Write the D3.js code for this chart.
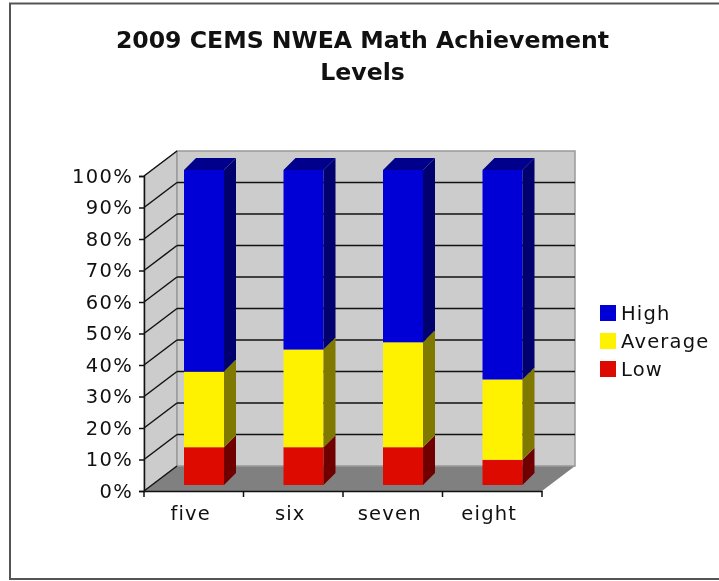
<!DOCTYPE html>
<html>
<head>
<meta charset="utf-8">
<script src="https://cdn.jsdelivr.net/npm/d3@7"></script>
<style>
  body { margin: 0; background: #fff; overflow: hidden; }
  svg { filter: blur(0.4px); }
  text { font-family: "DejaVu Sans", sans-serif; fill: #111; }
</style>
</head>
<body>
<div id="chart"></div>
<script>
const categories = ["five", "six", "seven", "eight"];
const seriesNames = ["Low", "Average", "High"];
const low = [12, 12, 12, 8];
const average = [24, 31, 33.3, 25.5];
const high = [64, 57, 54.7, 66.5];
const yTicks = [0, 10, 20, 30, 40, 50, 60, 70, 80, 90, 100];
const titleLines = ["2009 CEMS NWEA Math Achievement", "Levels"];
const legendOrder = ["High", "Average", "Low"];

const frontColors = { Low: "#dd0a00", Average: "#fff200", High: "#0000d6" };
const sideColors = { Low: "#700000", Average: "#807900", High: "#00006e" };
const topColor = "#00008c";

const width = 719, height = 581;
const svg = d3.select("#chart").append("svg")
  .attr("width", width).attr("height", height)
  .style("display", "block");

// frame, open on the right where the screenshot cuts it off
svg.append("path")
  .attr("d", d3.line()([[719, 3.5], [10, 3.5], [10, 579], [719, 579]]))
  .attr("fill", "none").attr("stroke", "#555").attr("stroke-width", 2);

titleLines.forEach((t, i) => {
  svg.append("text")
    .attr("x", 362.5).attr("y", 48 + i * 32)
    .attr("text-anchor", "middle")
    .style("font-size", "23.6px").style("font-weight", "bold")
    .text(t);
});

const y = d3.scaleLinear().domain([0, 100]).range([491, 176]);
const x = d3.scaleBand().domain(categories).range([144, 542]);

const depthX = 33, depthY = -25;   // wall offset
const barDepth = 12;               // side face of the bars
const barInset = 40, barW = 40, barLift = 6;

const left = x.range()[0], right = x.range()[1];
const poly = (pts) => pts.map((p) => p.join(",")).join(" ");

// floor + walls
svg.append("polygon")
  .attr("points", poly([[left, y(0)], [left + depthX, y(0) + depthY], [right + depthX, y(0) + depthY], [right, y(0)]]))
  .attr("fill", "#808080");
svg.append("polygon")
  .attr("points", poly([[left, y(0)], [left, y(100)], [left + depthX, y(100) + depthY], [left + depthX, y(0) + depthY]]))
  .attr("fill", "#cccccc").attr("stroke", "#999").attr("stroke-width", 1);
svg.append("rect")
  .attr("x", left + depthX).attr("y", y(100) + depthY)
  .attr("width", right - left).attr("height", y(0) - y(100))
  .attr("fill", "#cccccc").attr("stroke", "#999").attr("stroke-width", 1.5);

// grid lines
const grid = svg.append("g").attr("stroke", "#111").attr("stroke-width", 1.5);
grid.selectAll("line.back")
  .data(yTicks.filter((d) => d > 0 && d < 100))
  .enter().append("line").attr("class", "back")
  .attr("x1", left + depthX).attr("x2", right + depthX)
  .attr("y1", (d) => y(d) + depthY).attr("y2", (d) => y(d) + depthY);
grid.selectAll("line.side")
  .data(yTicks)
  .enter().append("line").attr("class", "side")
  .attr("x1", left).attr("x2", left + depthX)
  .attr("y1", (d) => y(d)).attr("y2", (d) => y(d) + depthY);

// stacked bars
const rows = categories.map((c, i) => ({ cat: c, Low: low[i], Average: average[i], High: high[i] }));
const stacked = d3.stack().keys(seriesNames)(rows);

stacked.forEach((layer) => {
  const name = layer.key;
  const g = svg.append("g");
  layer.forEach((d) => {
    const x0 = x(d.data.cat) + barInset;
    const x1 = x0 + barW;
    const yb = y(d[0]) - barLift, yt = y(d[1]) - barLift;
    g.append("rect")
      .attr("x", x0).attr("y", yt).attr("width", barW).attr("height", yb - yt)
      .attr("fill", frontColors[name]);
    g.append("polygon")
      .attr("points", poly([[x1, yb], [x1 + barDepth, yb - barDepth], [x1 + barDepth, yt - barDepth], [x1, yt]]))
      .attr("fill", sideColors[name]);
    if (name === "High") {
      g.append("polygon")
        .attr("points", poly([[x0, yt], [x0 + barDepth, yt - barDepth], [x1 + barDepth, yt - barDepth], [x1, yt]]))
        .attr("fill", topColor);
    }
  });
});

// axes
const yAxis = d3.axisLeft(y).tickValues(yTicks).tickFormat((d) => d + "%").tickSize(5).tickPadding(6);
const yG = svg.append("g").attr("transform", `translate(${left},0)`).call(yAxis);
yG.selectAll("text").style("font-size", "19.5px").style("letter-spacing", "1.3px");
yG.selectAll("line").attr("stroke", "#111").attr("stroke-width", 1.5);
yG.select(".domain").attr("stroke", "#111").attr("stroke-width", 1.5);

const xAxis = d3.axisBottom(x).tickSize(0).tickPadding(15);
const xG = svg.append("g").attr("transform", `translate(0,${y(0)})`).call(xAxis);
xG.select(".domain").attr("stroke", "#111").attr("stroke-width", 1.5);
xG.selectAll("text").style("font-size", "19.5px").style("letter-spacing", "1.2px").attr("dx", -3);
// ticks sit on the band edges, not the centres
xG.selectAll("line.edge")
  .data(x.domain().map((c) => x(c)).concat(right))
  .enter().append("line").attr("class", "edge")
  .attr("x1", (d) => d).attr("x2", (d) => d).attr("y1", 0).attr("y2", 6)
  .attr("stroke", "#111").attr("stroke-width", 1.5);

// legend
const legendY = d3.scalePoint().domain(legendOrder).range([313, 369]);
const legend = svg.append("g").selectAll("g").data(legendOrder).enter().append("g")
  .attr("transform", (d) => `translate(600,${legendY(d)})`);
legend.append("rect")
  .attr("x", 0).attr("y", -8).attr("width", 16).attr("height", 16)
  .attr("fill", (d) => frontColors[d]);
legend.append("text")
  .attr("x", 21).attr("y", 7)
  .style("font-size", "19.5px").style("letter-spacing", "1.2px")
  .text((d) => d);
</script>
</body>
</html>
